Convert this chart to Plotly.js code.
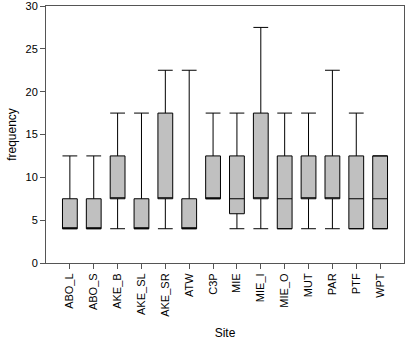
<!DOCTYPE html>
<html>
<head>
<script src="https://cdn.plot.ly/plotly-3.0.1.min.js"></script>
<style>html,body{margin:0;padding:0;background:#fff;}</style>
</head>
<body>
<div id="chart" style="width:414px;height:348px;"></div>
<script>
var sites = ["ABO_L","ABO_S","AKE_B","AKE_SL","AKE_SR","ATW","C3P","MIE","MIE_I","MIE_O","MUT","PAR","PTF","WPT"];
var lowerWhisker = [4, 4, 4, 4, 4, 4, 7.5, 4, 4, 4, 4, 4, 4, 4];
var q1Values     = [4, 4, 7.5, 4, 7.5, 4, 7.5, 5.75, 7.5, 4, 7.5, 7.5, 4, 4];
var medianValues = [4, 4, 7.5, 4, 7.5, 4, 7.5, 7.5, 7.5, 7.5, 7.5, 7.5, 7.5, 7.5];
var q3Values     = [7.5, 7.5, 12.5, 7.5, 17.5, 7.5, 12.5, 12.5, 17.5, 12.5, 12.5, 12.5, 12.5, 12.5];
var upperWhisker = [12.5, 12.5, 17.5, 17.5, 22.5, 22.5, 17.5, 17.5, 27.5, 17.5, 17.5, 22.5, 17.5, 12.5];
var yTicks = [0, 5, 10, 15, 20, 25, 30];

var trace = {
  type: "box",
  x: sites,
  q1: q1Values,
  median: medianValues,
  q3: q3Values,
  lowerfence: lowerWhisker,
  upperfence: upperWhisker,
  fillcolor: "#c0c0c0",
  line: {color: "#000000", width: 1},
  whiskerwidth: 1,
  width: 0.62,
  boxpoints: false,
  hoverinfo: "skip",
  showlegend: false
};

var layout = {
  width: 414, height: 348,
  margin: {l: 46, r: 10, t: 6, b: 85},
  paper_bgcolor: "#ffffff",
  plot_bgcolor: "#ffffff",
  font: {family: "Liberation Sans, Arial, sans-serif", size: 11, color: "#000"},
  xaxis: {
    type: "category",
    range: [-1, 14],
    tickangle: -90,
    ticks: "outside", ticklen: 5, tickcolor: "#555",
    showline: true, linecolor: "#555", linewidth: 1, mirror: true,
    showgrid: false, zeroline: false,
    tickfont: {size: 11},
    title: {text: "Site", font: {size: 12}, standoff: 12}
  },
  yaxis: {
    range: [0, 30],
    tickvals: yTicks,
    ticklabeloverflow: "allow",
    ticks: "outside", ticklen: 5, tickcolor: "#555",
    showline: true, linecolor: "#555", linewidth: 1, mirror: true,
    showgrid: false, zeroline: false,
    tickfont: {size: 11},
    title: {text: "frequency", font: {size: 12}, standoff: 6}
  }
};

Plotly.newPlot("chart", [trace], layout, {displayModeBar: false, staticPlot: true});
</script>
</body>
</html>
